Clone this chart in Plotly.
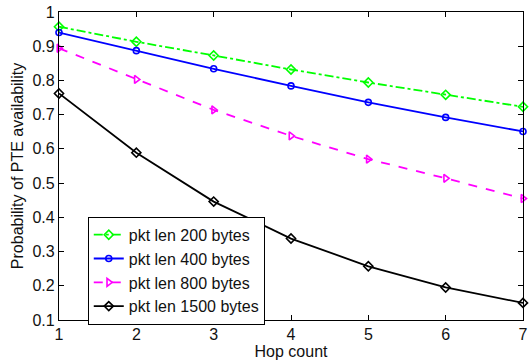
import plotly.graph_objects as go

hops = [1, 2, 3, 4, 5, 6, 7]
p200 = [0.957, 0.913, 0.873, 0.832, 0.794, 0.758, 0.723]
p400 = [0.940, 0.887, 0.834, 0.784, 0.736, 0.692, 0.651]
p800 = [0.894, 0.803, 0.714, 0.638, 0.570, 0.514, 0.455]
p1500 = [0.762, 0.589, 0.446, 0.338, 0.257, 0.195, 0.150]

series = [
    ("pkt len 200 bytes", p200, "#00ff00", "dashdot", "diamond-open", 7),
    ("pkt len 400 bytes", p400, "#0000ff", "solid", "circle-open", 6),
    ("pkt len 800 bytes", p800, "#ff00ff", "dash", "triangle-right-open", 7),
    ("pkt len 1500 bytes", p1500, "#000000", "solid", "diamond-open", 7),
]

FONT = "Liberation Sans, Arial, sans-serif"

fig = go.Figure()
for name, vals, color, dash, sym, size in series:
    fig.add_trace(go.Scatter(
        x=hops, y=vals, name=name, mode="lines+markers",
        line=dict(color=color, width=1.8, dash=dash),
        marker=dict(symbol=sym, size=size, color=color, line=dict(width=1.6, color=color)),
        cliponaxis=False,
    ))

axis_common = dict(
    showgrid=False, zeroline=False, showline=True, linecolor="black", linewidth=1.2,
    mirror="allticks", ticks="inside", ticklen=5, tickcolor="black",
    tickfont=dict(size=16, color="#111", family=FONT),
    ticklabeloverflow="allow",
)

fig.update_layout(
    width=529, height=362,
    margin=dict(l=59, r=1, t=12, b=42),
    paper_bgcolor="white", plot_bgcolor="white",
    font=dict(family=FONT, size=16, color="#111"),
    xaxis=dict(range=[1, 7], tickvals=hops, title=dict(text="Hop count", standoff=0,
               font=dict(size=16)), **axis_common),
    yaxis=dict(range=[0.1, 1.0], tickvals=[0.1, 0.2, 0.3, 0.4, 0.5, 0.6, 0.7, 0.8, 0.9, 1],
               ticktext=["0.1", "0.2", "0.3", "0.4", "0.5", "0.6", "0.7", "0.8", "0.9", "1"],
               title=dict(text="Probability of PTE availability", standoff=4, font=dict(size=16)),
               **axis_common),
    legend=dict(x=0.062, y=0.335, xanchor="left", yanchor="top",
                bgcolor="white", bordercolor="black", borderwidth=1,
                font=dict(size=16), tracegroupgap=0, itemwidth=30),
    showlegend=True,
)

fig.write_html("out.html")
